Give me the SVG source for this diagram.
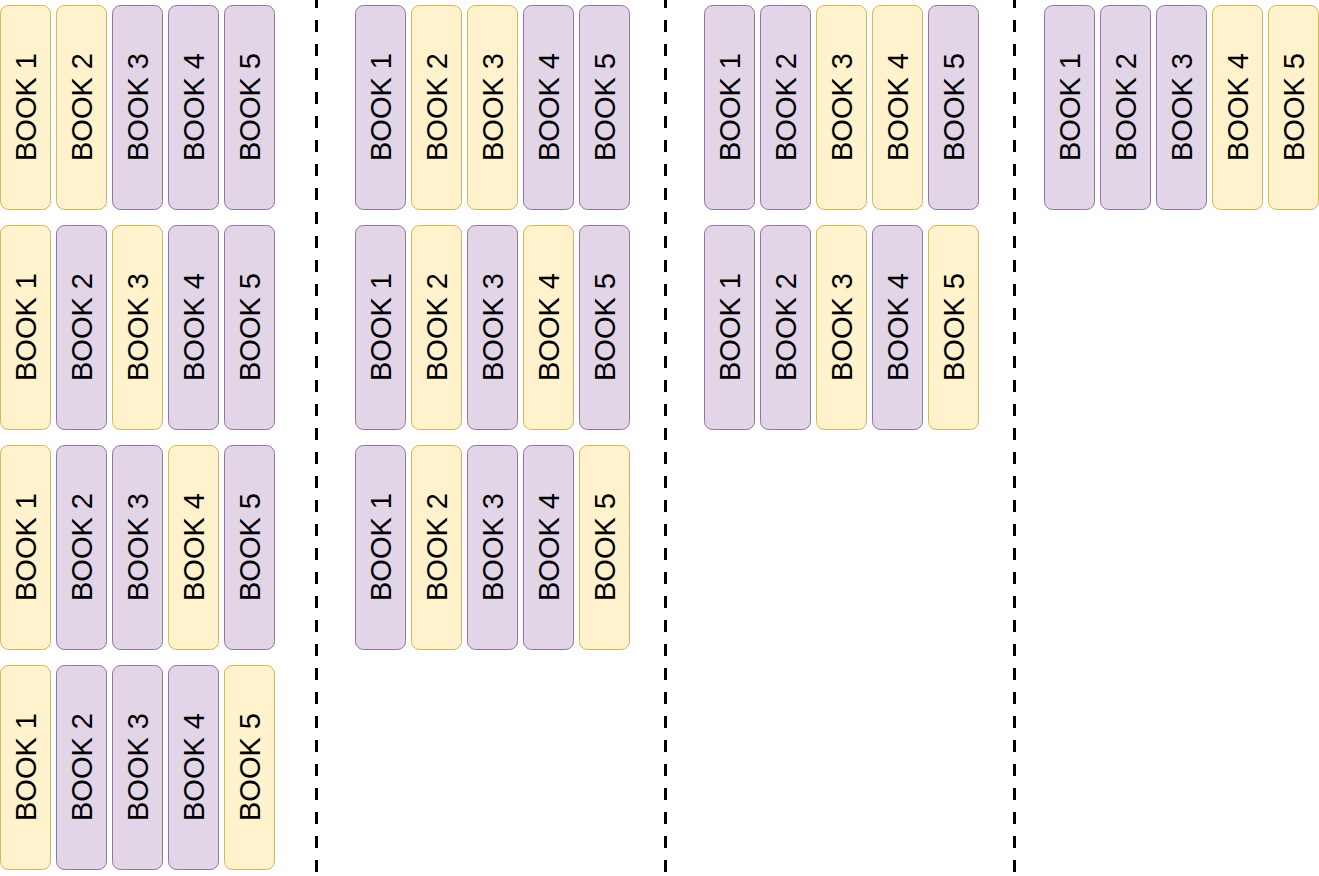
<svg xmlns="http://www.w3.org/2000/svg" width="1319" height="876" viewBox="0 0 1319 876">
<style>
.y{fill:#fff2cc;stroke:#d6b656;stroke-width:1}
.p{fill:#e1d5e7;stroke:#9673a6;stroke-width:1}
.t{font-family:"Liberation Sans",Arial,sans-serif;font-size:29px;fill:#000;text-anchor:middle;dominant-baseline:central}
.sep{stroke:#000;stroke-width:3;stroke-dasharray:12 12;stroke-dashoffset:4;fill:none}
</style>
<rect width="1319" height="876" fill="#fff"/>
<g id="connectors">
<line class="sep" x1="316.5" y1="0" x2="316.5" y2="876"/>
<line class="sep" x1="665.5" y1="0" x2="665.5" y2="876"/>
<line class="sep" x1="1014.5" y1="0" x2="1014.5" y2="876"/>
</g>
<!-- Column 1 -->
<g id="c1r1">
<g id="c1r1b1"><rect class="y" x="0.5" y="5.5" width="50" height="204" rx="8"/><text class="t" transform="translate(25.5,107) rotate(-90)">BOOK 1</text></g>
<g id="c1r1b2"><rect class="y" x="56.5" y="5.5" width="50" height="204" rx="8"/><text class="t" transform="translate(81.5,107) rotate(-90)">BOOK 2</text></g>
<g id="c1r1b3"><rect class="p" x="112.5" y="5.5" width="50" height="204" rx="8"/><text class="t" transform="translate(137.5,107) rotate(-90)">BOOK 3</text></g>
<g id="c1r1b4"><rect class="p" x="168.5" y="5.5" width="50" height="204" rx="8"/><text class="t" transform="translate(193.5,107) rotate(-90)">BOOK 4</text></g>
<g id="c1r1b5"><rect class="p" x="224.5" y="5.5" width="50" height="204" rx="8"/><text class="t" transform="translate(249.5,107) rotate(-90)">BOOK 5</text></g>
</g>
<g id="c1r2">
<g id="c1r2b1"><rect class="y" x="0.5" y="225.5" width="50" height="204" rx="8"/><text class="t" transform="translate(25.5,327) rotate(-90)">BOOK 1</text></g>
<g id="c1r2b2"><rect class="p" x="56.5" y="225.5" width="50" height="204" rx="8"/><text class="t" transform="translate(81.5,327) rotate(-90)">BOOK 2</text></g>
<g id="c1r2b3"><rect class="y" x="112.5" y="225.5" width="50" height="204" rx="8"/><text class="t" transform="translate(137.5,327) rotate(-90)">BOOK 3</text></g>
<g id="c1r2b4"><rect class="p" x="168.5" y="225.5" width="50" height="204" rx="8"/><text class="t" transform="translate(193.5,327) rotate(-90)">BOOK 4</text></g>
<g id="c1r2b5"><rect class="p" x="224.5" y="225.5" width="50" height="204" rx="8"/><text class="t" transform="translate(249.5,327) rotate(-90)">BOOK 5</text></g>
</g>
<g id="c1r3">
<g id="c1r3b1"><rect class="y" x="0.5" y="445.5" width="50" height="204" rx="8"/><text class="t" transform="translate(25.5,547) rotate(-90)">BOOK 1</text></g>
<g id="c1r3b2"><rect class="p" x="56.5" y="445.5" width="50" height="204" rx="8"/><text class="t" transform="translate(81.5,547) rotate(-90)">BOOK 2</text></g>
<g id="c1r3b3"><rect class="p" x="112.5" y="445.5" width="50" height="204" rx="8"/><text class="t" transform="translate(137.5,547) rotate(-90)">BOOK 3</text></g>
<g id="c1r3b4"><rect class="y" x="168.5" y="445.5" width="50" height="204" rx="8"/><text class="t" transform="translate(193.5,547) rotate(-90)">BOOK 4</text></g>
<g id="c1r3b5"><rect class="p" x="224.5" y="445.5" width="50" height="204" rx="8"/><text class="t" transform="translate(249.5,547) rotate(-90)">BOOK 5</text></g>
</g>
<g id="c1r4">
<g id="c1r4b1"><rect class="y" x="0.5" y="665.5" width="50" height="204" rx="8"/><text class="t" transform="translate(25.5,767) rotate(-90)">BOOK 1</text></g>
<g id="c1r4b2"><rect class="p" x="56.5" y="665.5" width="50" height="204" rx="8"/><text class="t" transform="translate(81.5,767) rotate(-90)">BOOK 2</text></g>
<g id="c1r4b3"><rect class="p" x="112.5" y="665.5" width="50" height="204" rx="8"/><text class="t" transform="translate(137.5,767) rotate(-90)">BOOK 3</text></g>
<g id="c1r4b4"><rect class="p" x="168.5" y="665.5" width="50" height="204" rx="8"/><text class="t" transform="translate(193.5,767) rotate(-90)">BOOK 4</text></g>
<g id="c1r4b5"><rect class="y" x="224.5" y="665.5" width="50" height="204" rx="8"/><text class="t" transform="translate(249.5,767) rotate(-90)">BOOK 5</text></g>
</g>
<!-- Column 2 -->
<g id="c2r1">
<g id="c2r1b1"><rect class="p" x="355.5" y="5.5" width="50" height="204" rx="8"/><text class="t" transform="translate(380.5,107) rotate(-90)">BOOK 1</text></g>
<g id="c2r1b2"><rect class="y" x="411.5" y="5.5" width="50" height="204" rx="8"/><text class="t" transform="translate(436.5,107) rotate(-90)">BOOK 2</text></g>
<g id="c2r1b3"><rect class="y" x="467.5" y="5.5" width="50" height="204" rx="8"/><text class="t" transform="translate(492.5,107) rotate(-90)">BOOK 3</text></g>
<g id="c2r1b4"><rect class="p" x="523.5" y="5.5" width="50" height="204" rx="8"/><text class="t" transform="translate(548.5,107) rotate(-90)">BOOK 4</text></g>
<g id="c2r1b5"><rect class="p" x="579.5" y="5.5" width="50" height="204" rx="8"/><text class="t" transform="translate(604.5,107) rotate(-90)">BOOK 5</text></g>
</g>
<g id="c2r2">
<g id="c2r2b1"><rect class="p" x="355.5" y="225.5" width="50" height="204" rx="8"/><text class="t" transform="translate(380.5,327) rotate(-90)">BOOK 1</text></g>
<g id="c2r2b2"><rect class="y" x="411.5" y="225.5" width="50" height="204" rx="8"/><text class="t" transform="translate(436.5,327) rotate(-90)">BOOK 2</text></g>
<g id="c2r2b3"><rect class="p" x="467.5" y="225.5" width="50" height="204" rx="8"/><text class="t" transform="translate(492.5,327) rotate(-90)">BOOK 3</text></g>
<g id="c2r2b4"><rect class="y" x="523.5" y="225.5" width="50" height="204" rx="8"/><text class="t" transform="translate(548.5,327) rotate(-90)">BOOK 4</text></g>
<g id="c2r2b5"><rect class="p" x="579.5" y="225.5" width="50" height="204" rx="8"/><text class="t" transform="translate(604.5,327) rotate(-90)">BOOK 5</text></g>
</g>
<g id="c2r3">
<g id="c2r3b1"><rect class="p" x="355.5" y="445.5" width="50" height="204" rx="8"/><text class="t" transform="translate(380.5,547) rotate(-90)">BOOK 1</text></g>
<g id="c2r3b2"><rect class="y" x="411.5" y="445.5" width="50" height="204" rx="8"/><text class="t" transform="translate(436.5,547) rotate(-90)">BOOK 2</text></g>
<g id="c2r3b3"><rect class="p" x="467.5" y="445.5" width="50" height="204" rx="8"/><text class="t" transform="translate(492.5,547) rotate(-90)">BOOK 3</text></g>
<g id="c2r3b4"><rect class="p" x="523.5" y="445.5" width="50" height="204" rx="8"/><text class="t" transform="translate(548.5,547) rotate(-90)">BOOK 4</text></g>
<g id="c2r3b5"><rect class="y" x="579.5" y="445.5" width="50" height="204" rx="8"/><text class="t" transform="translate(604.5,547) rotate(-90)">BOOK 5</text></g>
</g>
<!-- Column 3 -->
<g id="c3r1">
<g id="c3r1b1"><rect class="p" x="704.5" y="5.5" width="50" height="204" rx="8"/><text class="t" transform="translate(729.5,107) rotate(-90)">BOOK 1</text></g>
<g id="c3r1b2"><rect class="p" x="760.5" y="5.5" width="50" height="204" rx="8"/><text class="t" transform="translate(785.5,107) rotate(-90)">BOOK 2</text></g>
<g id="c3r1b3"><rect class="y" x="816.5" y="5.5" width="50" height="204" rx="8"/><text class="t" transform="translate(841.5,107) rotate(-90)">BOOK 3</text></g>
<g id="c3r1b4"><rect class="y" x="872.5" y="5.5" width="50" height="204" rx="8"/><text class="t" transform="translate(897.5,107) rotate(-90)">BOOK 4</text></g>
<g id="c3r1b5"><rect class="p" x="928.5" y="5.5" width="50" height="204" rx="8"/><text class="t" transform="translate(953.5,107) rotate(-90)">BOOK 5</text></g>
</g>
<g id="c3r2">
<g id="c3r2b1"><rect class="p" x="704.5" y="225.5" width="50" height="204" rx="8"/><text class="t" transform="translate(729.5,327) rotate(-90)">BOOK 1</text></g>
<g id="c3r2b2"><rect class="p" x="760.5" y="225.5" width="50" height="204" rx="8"/><text class="t" transform="translate(785.5,327) rotate(-90)">BOOK 2</text></g>
<g id="c3r2b3"><rect class="y" x="816.5" y="225.5" width="50" height="204" rx="8"/><text class="t" transform="translate(841.5,327) rotate(-90)">BOOK 3</text></g>
<g id="c3r2b4"><rect class="p" x="872.5" y="225.5" width="50" height="204" rx="8"/><text class="t" transform="translate(897.5,327) rotate(-90)">BOOK 4</text></g>
<g id="c3r2b5"><rect class="y" x="928.5" y="225.5" width="50" height="204" rx="8"/><text class="t" transform="translate(953.5,327) rotate(-90)">BOOK 5</text></g>
</g>
<!-- Column 4 -->
<g id="c4r1">
<g id="c4r1b1"><rect class="p" x="1044.5" y="5.5" width="50" height="204" rx="8"/><text class="t" transform="translate(1069.5,107) rotate(-90)">BOOK 1</text></g>
<g id="c4r1b2"><rect class="p" x="1100.5" y="5.5" width="50" height="204" rx="8"/><text class="t" transform="translate(1125.5,107) rotate(-90)">BOOK 2</text></g>
<g id="c4r1b3"><rect class="p" x="1156.5" y="5.5" width="50" height="204" rx="8"/><text class="t" transform="translate(1181.5,107) rotate(-90)">BOOK 3</text></g>
<g id="c4r1b4"><rect class="y" x="1212.5" y="5.5" width="50" height="204" rx="8"/><text class="t" transform="translate(1237.5,107) rotate(-90)">BOOK 4</text></g>
<g id="c4r1b5"><rect class="y" x="1268.5" y="5.5" width="50" height="204" rx="8"/><text class="t" transform="translate(1293.5,107) rotate(-90)">BOOK 5</text></g>
</g>
</svg>
